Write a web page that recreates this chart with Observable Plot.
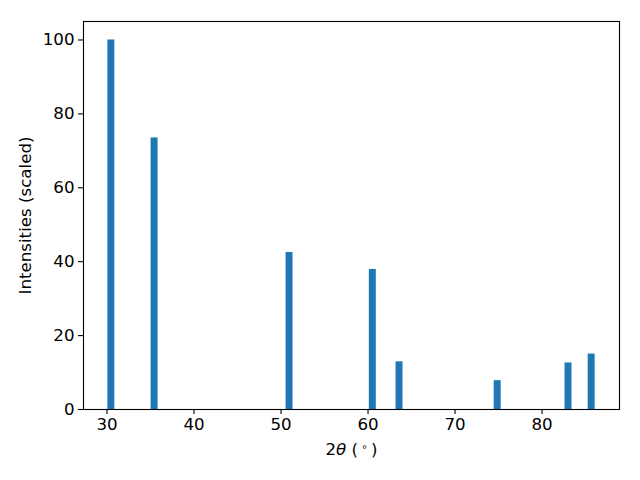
<!DOCTYPE html>
<html>
<head>
<meta charset="utf-8">
<script src="https://cdn.jsdelivr.net/npm/d3@7"></script>
<script src="https://cdn.jsdelivr.net/npm/@observablehq/plot@0.6"></script>
<style>
  html, body { margin: 0; padding: 0; background: #fff; }
  svg { display: block; }
</style>
</head>
<body>
<div id="chart"></div>
<script>
const positions = [30.5, 35.47, 50.98, 60.55, 63.62, 74.9, 83.04, 85.7];
const intensities = [100, 73.5, 42.5, 37.9, 12.9, 7.8, 12.6, 15.0];
const barWidth = 0.8;
const xTicks = [30, 40, 50, 60, 70, 80];
const yTicks = [0, 20, 40, 60, 80, 100];
const xLabel = "2θ (°)";
const yLabel = "Intensities (scaled)";

const data = positions.map((p, i) => ({x1: p - barWidth / 2, x2: p + barWidth / 2, y: intensities[i]}));

const fs = 16.67;
const chart = Plot.plot({
  width: 640,
  height: 480,
  marginLeft: 83,
  marginRight: 21,
  marginTop: 21,
  marginBottom: 71,
  style: {fontFamily: "DejaVu Sans", fontSize: fs + "px", color: "#000", background: "#fff"},
  x: {domain: [27.3, 88.9], label: null},
  y: {domain: [0, 105], label: null},
  marks: [
    Plot.rectY(data, {x1: "x1", x2: "x2", y: "y", fill: "#1f77b4"}),
    Plot.frame({stroke: "#000", strokeWidth: 1.1}),
    Plot.axisX(xTicks, {tickSize: 5, tickPadding: 4, fontSize: fs, stroke: "#000", strokeWidth: 1.1, label: null}),
    Plot.axisY(yTicks, {tickSize: 5, tickPadding: 4, fontSize: fs, stroke: "#000", strokeWidth: 1.1, label: null}),
    Plot.text([xLabel], {frameAnchor: "bottom", dy: 45, fontSize: fs, fill: "#000", className: "xlab"}),
    Plot.text([yLabel], {frameAnchor: "left", dx: -58, rotate: -90, textAnchor: "middle", fontSize: fs, fill: "#000"})
  ]
});
document.getElementById("chart").appendChild(chart);

d3.select(chart).selectAll("text").style("font-size", fs + "px").style("font-family", "DejaVu Sans").style("fill", "#000");

// italic theta and superscript degree in the x label
d3.select(chart).selectAll("g.xlab text").each(function () {
  const t = d3.select(this);
  t.text(null);
  t.append("tspan").text("2");
  t.append("tspan").style("font-style", "italic").text("θ");
  t.append("tspan").text(" (\u2009");
  t.append("tspan").style("font-size", "0.6em").attr("dy", "-0.5em").text("∘");
  t.append("tspan").attr("dy", "0.3em").text("\u2009)");
});
</script>
</body>
</html>
